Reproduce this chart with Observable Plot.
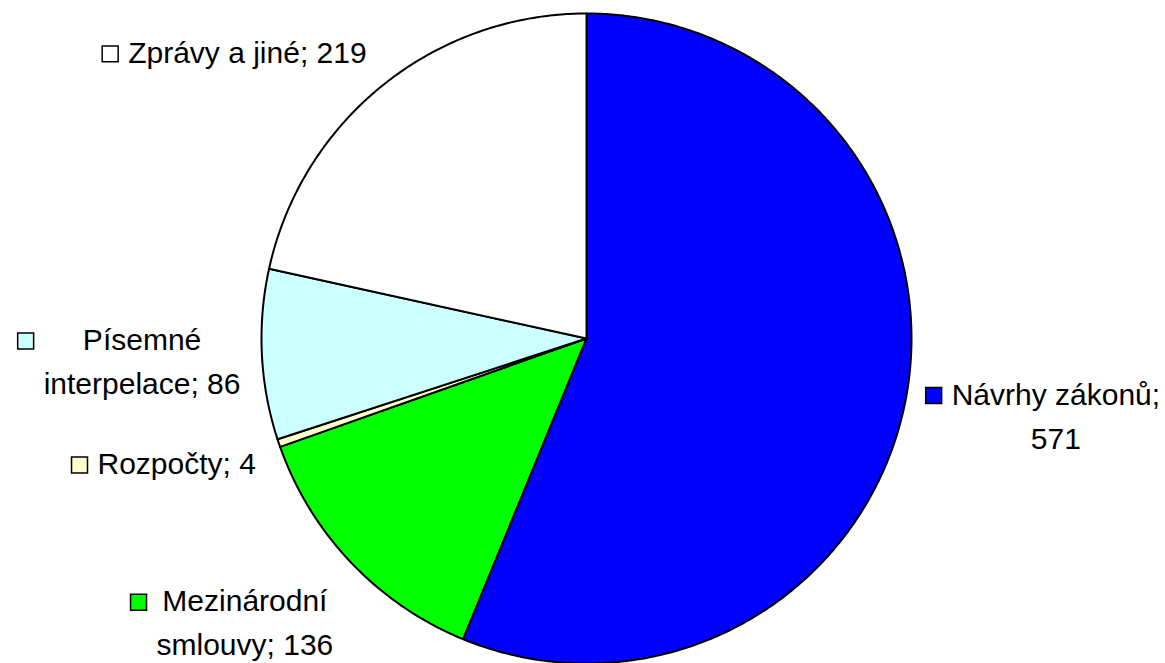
<!DOCTYPE html>
<html><head><meta charset="utf-8">
<script src="https://cdn.jsdelivr.net/npm/d3@7"></script>
<script src="https://cdn.jsdelivr.net/npm/@observablehq/plot@0.6"></script>
<style>body{margin:0;background:#fff;} #chart svg{display:block}</style>
</head><body><div id="chart"></div>
<script>
// ---- data ----
const categories = ["Návrhy zákonů", "Mezinárodní smlouvy", "Rozpočty", "Písemné interpelace", "Zprávy a jiné"];
const values = [571, 136, 4, 86, 219];
const colors = ["#0000ff", "#00ff00", "#ffffcc", "#ccffff", "#ffffff"];
const wrapAt = ["; ", " ", null, " ", null];
// label nudges (px) away from the mid-angle point
const labelNudge = [[23, -11], [-12, -30], [21, -22], [10, 0], [-54, 68]];

// ---- layout ----
const W = 1165, H = 663, cx = 586, cy = 338, R = 325;
const FONT = 30, LH = 44, FAMILY = '"Liberation Sans", Arial, sans-serif';

const arcs = d3.pie().sort(null).value(d => d)(values);

// slice outlines in data units (unit circle, y up, clockwise from top)
const slicePts = [];
arcs.forEach((a, i) => {
  slicePts.push({i, x: 0, y: 0});
  const n = Math.max(2, Math.ceil((a.endAngle - a.startAngle) / (Math.PI / 360)));
  for (let k = 0; k <= n; k++) {
    const t = a.startAngle + (a.endAngle - a.startAngle) * k / n;
    slicePts.push({i, x: Math.sin(t), y: Math.cos(t)});
  }
  slicePts.push({i, x: 0, y: 0});
});

// label measurement
const ctx = document.createElement("canvas").getContext("2d");
ctx.font = `${FONT}px ${FAMILY}`;
const labels = arcs.map((a, i) => {
  let txt = `${categories[i]}; ${values[i]}`;
  if (wrapAt[i]) {
    const sep = wrapAt[i];
    const idx = txt.indexOf(sep);
    txt = txt.slice(0, idx) + sep.trimEnd() + "\n" + txt.slice(idx + sep.length);
  }
  const lines = txt.split("\n");
  const w = d3.max(lines, l => ctx.measureText(l).width);
  const mid = (a.startAngle + a.endAngle) / 2;
  const x = Math.sin(mid) * 1.4 + labelNudge[i][0] / R;
  const y = Math.cos(mid) * 1.4 - labelNudge[i][1] / R;
  return {
    i, text: txt, x, y,
    sx: x - (w / 2 + 10 + 8) / R,
    sy: y + ((lines.length - 1) * LH / 2) / R,
    color: colors[i]
  };
});

const chart = Plot.plot({
  width: W, height: H,
  margin: 0,
  x: {domain: [-cx / R, (W - cx) / R], axis: null},
  y: {domain: [-(H - cy) / R, cy / R], axis: null},
  color: {type: "identity"},
  marks: [
    Plot.line(slicePts, {x: "x", y: "y", z: "i", fill: d => colors[d.i], stroke: "black", strokeWidth: 2, strokeLinejoin: "round", curve: "linear"}),
    Plot.text(labels, {x: "x", y: "y", text: "text", dy: -3, fontSize: FONT, fontFamily: FAMILY, lineHeight: LH / FONT, textAnchor: "middle", lineAnchor: "middle", fill: "black"}),
    Plot.dot(labels, {x: "sx", y: "sy", dy: 2, symbol: "square", r: 9, fill: "color", stroke: "black", strokeWidth: 1.5})
  ]
});
document.getElementById("chart").appendChild(chart);
</script>
</body></html>
